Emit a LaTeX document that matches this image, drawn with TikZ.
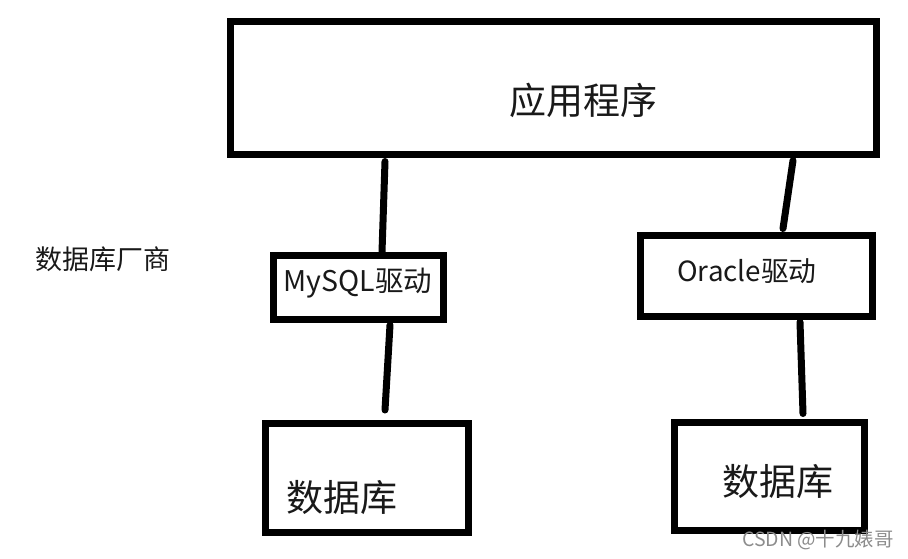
\documentclass[tikz,border=0pt]{standalone}
\usepackage{fontspec}
\setmainfont{Noto Sans CJK SC}
\usepackage{tikz}
\usetikzlibrary{positioning}

\begin{document}
\begin{tikzpicture} [x=1pt,y=-1pt,
    box/.style= {shape=rectangle,draw,line width=7pt,inner sep=0,fill=white},
    link/.style= {line width=7pt,line cap=round},
    txt/.style= {inner sep=0,text=black!90}]
    \useasboundingbox (0,0) rectangle (908,558);
    % boxes
    \node[box,minimum width=646pt,minimum height=133pt] (app) at (553,88) {};
    \node[box,minimum width=170pt,minimum height=64pt] (mysql) at (358.5,287.5) {};
    \node[box,minimum width=232pt,minimum height=81pt] (oracle) at (756,276) {};
    \node[box,minimum width=203pt,minimum height=109pt] (db1) at (367,477.5) {};
    \node[box,minimum width=190pt,minimum height=108pt] (db2) at (769,476) {};
    % texts
    \node[txt,font=\fontsize{37}{40}\selectfont] (appt) at (583,100) {应用程序};
    \node[txt,font=\fontsize{28.5}{30}\selectfont] (mysqlt) at (358,283) {MySQL驱动};
    \node[txt,font=\fontsize{27.8}{30}\selectfont] (oraclet) at (747,271) {Oracle驱动};
    \node[txt,font=\fontsize{37}{40}\selectfont] (db1t) at (342,498) {数据库};
    \node[txt,font=\fontsize{37}{40}\selectfont] (db2t) at (777.5,482) {数据库};
    \node[txt,font=\fontsize{27}{30}\selectfont] (vendor) at (103,259) {数据库厂商};
    \node[inner sep=0,text=black!45,font=\fontsize{19.5}{22}\selectfont] (mark) at (818,540) {CSDN @十九婊哥};
    % links
    \draw[link] ([xshift=-168pt,yshift=-3.5pt]app.south) -- ([xshift=23.5pt]mysql.north);
    \draw[link] ([xshift=240pt,yshift=-2.5pt]app.south) -- ([xshift=27pt,yshift=3.5pt]oracle.north);
    \draw[link] ([xshift=31.5pt,yshift=-2pt]mysql.south) -- ([xshift=18pt,yshift=9.5pt]db1.north);
    \draw[link] ([xshift=44pt,yshift=-2pt]oracle.south) -- ([xshift=34pt,yshift=5pt]db2.north);
\end{tikzpicture}
\end{document}
